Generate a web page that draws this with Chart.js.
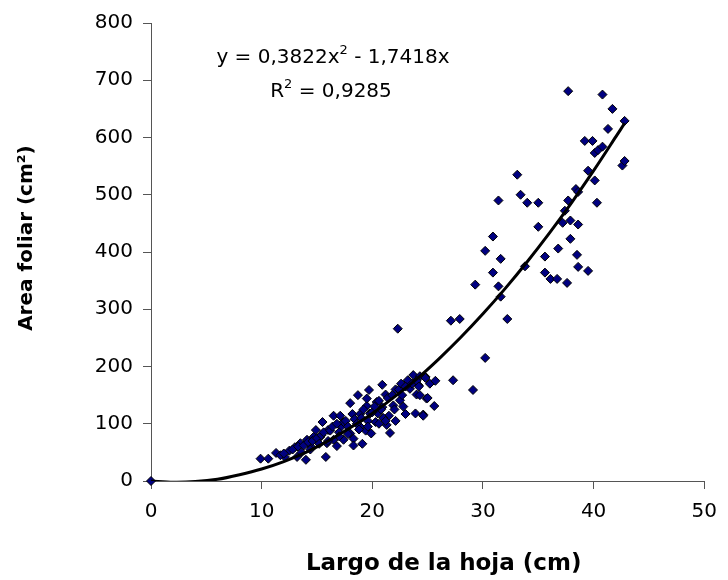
<!DOCTYPE html>
<html>
<head>
<meta charset="utf-8">
<script src="https://cdn.jsdelivr.net/npm/chart.js@4"></script>
<style>
  html, body { margin: 0; padding: 0; background: #fff; }
  #wrap { width: 728px; height: 580px; }
</style>
</head>
<body>
<div id="wrap"><canvas id="areaChart" width="728" height="580"></canvas></div>
<script>
// Largo de la hoja (cm) / Area foliar (cm2)
const largo = [
    0,
    9.9, 10.6, 11.3, 12.1, 12.5, 13.0, 13.2, 14.0, 13.5, 14.1, 14.5, 14.7, 14.9, 15.5, 15.3,
    15.8, 15.9, 16.0, 16.5, 16.5, 17.1, 17.2, 17.4, 16.8, 17.4, 18.0, 18.0, 18.2, 18.3, 18.3,
    18.7, 18.9, 18.9, 19.1, 19.4, 19.5, 19.7, 19.5, 19.8, 19.9, 20.4, 20.3, 20.5, 20.9, 20.9,
    21.2, 21.3, 21.6, 21.5, 21.9, 22.1, 22.1, 22.5, 22.7, 22.8, 23.0, 23.2, 23.4, 23.7, 23.9,
    24.0, 24.2, 24.6, 24.8, 24.9, 24.3,
    11.7, 12.0, 12.8, 13.3, 13.6, 13.8, 14.2, 14.4, 14.6, 15.0, 15.2, 15.4, 15.6, 16.0, 16.2,
    16.4, 16.8, 17.0, 17.0, 17.6, 17.8, 17.8, 18.4, 18.6, 18.8, 19.0, 19.2, 19.6, 19.6, 20.0,
    20.2, 20.6, 20.6, 20.8, 21.0, 21.2, 21.4, 21.8, 22.0, 22.4, 22.6, 23.0, 23.6, 24.0, 25.2,
    22.3,
    24.2, 24.3, 24.6, 24.8, 25.0, 25.6, 25.7, 27.3, 29.1, 30.2,
    27.1, 27.9, 31.6, 32.2, 33.8,
    29.3, 31.4, 30.9, 36.1, 36.7, 37.6, 35.6, 38.6, 39.5, 30.2, 31.6, 36.8, 38.5, 35.6,
    30.9, 37.9, 35.0, 37.2, 37.9, 38.6, 37.4, 33.4, 31.4, 34.0, 35.0, 37.7, 40.3, 38.4, 38.6,
    33.1, 40.1, 39.5, 42.6, 42.8, 40.1, 40.4, 40.8, 39.2, 39.9, 41.3, 42.8, 41.7, 40.8, 37.7
];
const areaFoliar = [
    0,
    39, 39, 49, 42, 53, 59, 42, 37, 66, 72, 59, 77, 89, 103, 77,
    42, 66, 89, 114, 72, 114, 95, 103, 61, 72, 136, 83, 117, 74, 62,
    150, 95, 117, 65, 88, 131, 159, 144, 118, 83, 138, 103, 118, 168, 129,
    151, 98, 84, 114, 132, 160, 105, 141, 150, 130, 117, 176, 161, 185, 118,
    151, 167, 116, 182, 144, 183,
    45, 48, 55, 60, 50, 62, 68, 55, 70, 75, 65, 80, 85, 70, 88,
    95, 100, 85, 78, 105, 95, 82, 108, 100, 90, 110, 125, 105, 95, 120,
    130, 140, 100, 125, 110, 105, 145, 150, 125, 160, 170, 165, 170, 175, 170,
    266,
    165, 150, 114, 180, 145, 131, 175, 176, 159, 215,
    280, 283, 322, 283, 375,
    343, 340, 364, 353, 353, 346, 364, 374, 367, 402, 388, 406, 395, 392,
    427, 423, 444, 451, 455, 448, 472, 500, 490, 486, 486, 490, 486, 510, 505,
    535, 525, 542, 551, 559, 573, 578, 584, 594, 594, 615, 629, 650, 675, 681
];

// Trend line points
const trendX = [0, 2, 4, 6, 8, 10, 12, 14, 16, 18, 20, 22, 24, 26, 28, 30, 32, 34, 36, 38, 40, 42, 42.8];
const trendY = [0, -2, -1, 3, 11, 21, 34, 50, 70, 93, 118, 147, 178, 213, 251, 292, 336, 383, 433, 486, 542, 601, 625];

const xTicks = [0, 10, 20, 30, 40, 50];
const yTicks = [0, 100, 200, 300, 400, 500, 600, 700, 800];

const puntos = largo.map((x, i) => ({ x: x, y: areaFoliar[i] }));
const tendencia = trendX.map((x, i) => ({ x: x, y: trendY[i] }));

const tickFont = { family: 'DejaVu Sans', size: 20 };

// equation label in the top left of the plot
const ecuacionPlugin = {
    id: 'ecuacion',
    afterDraw(chart) {
        const ctx = chart.ctx;
        ctx.save();
        ctx.fillStyle = '#000';
        ctx.textBaseline = 'alphabetic';
        ctx.textAlign = 'left';
        const big = '20px "DejaVu Sans"';
        const small = '13px "DejaVu Sans"';

        // line 1: y = 0,3822x² - 1,7418x
        const parts1 = [['y = 0,3822x', big, 0], ['2', small, -9], [' - 1,7418x', big, 0]];
        drawParts(ctx, parts1, 333, 63);
        // line 2: R² = 0,9285
        const parts2 = [['R', big, 0], ['2', small, -9], [' = 0,9285', big, 0]];
        drawParts(ctx, parts2, 331, 97);
        ctx.restore();
    }
};

function drawParts(ctx, parts, cx, baseY) {
    let total = 0;
    parts.forEach(p => { ctx.font = p[1]; total += ctx.measureText(p[0]).width; });
    let x = cx - total / 2;
    parts.forEach(p => {
        ctx.font = p[1];
        ctx.fillText(p[0], x, baseY + p[2]);
        x += ctx.measureText(p[0]).width;
    });
}

new Chart(document.getElementById('areaChart'), {
    type: 'scatter',
    data: {
        datasets: [
            {
                type: 'line',
                label: 'Tendencia',
                data: tendencia,
                borderColor: '#000',
                borderWidth: 3,
                pointRadius: 0,
                fill: false,
                tension: 0.3,
                order: 0
            },
            {
                label: 'Area foliar',
                data: puntos,
                pointStyle: 'rectRot',
                pointRadius: 4.5,
                pointBackgroundColor: '#000080',
                pointBorderColor: '#000',
                pointBorderWidth: 1,
                clip: false,
                order: 1
            }
        ]
    },
    options: {
        responsive: false,
        animation: false,
        layout: { padding: { top: 23, right: 21, left: 0, bottom: 0 } },
        plugins: {
            legend: { display: false },
            tooltip: { enabled: false }
        },
        scales: {
            x: {
                type: 'linear',
                min: 0,
                max: 50,
                afterBuildTicks: (scale) => { scale.ticks = xTicks.map(v => ({ value: v })); },
                afterFit: (scale) => { scale.height = 99; },
                grid: { display: true, drawOnChartArea: false, tickLength: 8, color: '#555' },
                border: { color: '#555', width: 1 },
                ticks: { font: tickFont, color: '#000', padding: 11, maxRotation: 0 },
                title: {
                    display: true,
                    text: '    Largo de la hoja (cm)',
                    font: { family: 'DejaVu Sans', size: 23, weight: 'bold' },
                    color: '#000',
                    padding: { top: 0, bottom: 2 }
                }
            },
            y: {
                type: 'linear',
                min: 0,
                max: 800,
                afterBuildTicks: (scale) => { scale.ticks = yTicks.map(v => ({ value: v })); },
                afterFit: (scale) => { scale.width = 151; },
                grid: { display: true, drawOnChartArea: false, tickLength: 8, color: '#555' },
                border: { color: '#555', width: 1 },
                ticks: { font: tickFont, color: '#000', padding: 10 },
                title: {
                    display: true,
                    text: '    Area foliar (cm²)',
                    font: { family: 'DejaVu Sans', size: 20, weight: 'bold' },
                    color: '#000',
                    padding: { top: 15, bottom: 0 }
                }
            }
        }
    },
    plugins: [ecuacionPlugin]
});
</script>
</body>
</html>
